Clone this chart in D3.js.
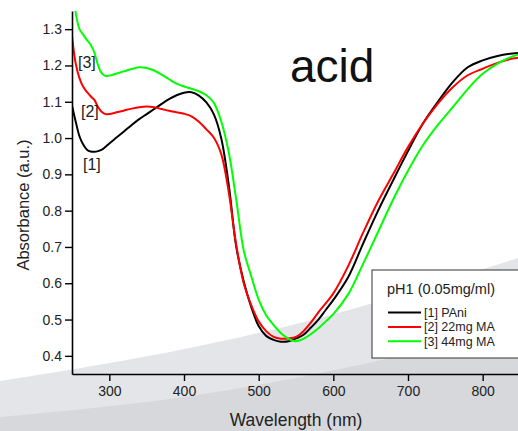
<!DOCTYPE html>
<meta charset="utf-8">
<script src="https://cdn.jsdelivr.net/npm/d3@7"></script>
<style>
  body { margin: 0; background: #fff; }
  svg { display: block; font-family: "Liberation Sans", Arial, sans-serif; }
</style>
<div id="dataviz"></div>
<script>

// wavelengths (nm) and absorbance
var wavelength = [250, 255, 260, 265, 270, 275, 280, 285, 290, 295, 300, 310, 320, 330, 340, 350, 360, 370, 380, 390,
                  400, 410, 420, 430, 440, 450, 460, 470, 480, 490, 500, 510, 520, 530, 540, 550, 560, 570, 580, 590,
                  600, 620, 640, 660, 680, 700, 720, 740, 760, 780, 800, 820, 840, 850];

var pani = [1.09, 1.045, 1.005, 0.982, 0.968, 0.963, 0.962, 0.964, 0.968, 0.976, 0.985, 1.002, 1.019, 1.036, 1.052, 1.066, 1.080, 1.094, 1.107, 1.118,
            1.125, 1.126, 1.117, 1.098, 1.065, 0.998, 0.87, 0.70, 0.605, 0.535, 0.482, 0.455, 0.444, 0.439, 0.44, 0.448, 0.458, 0.478, 0.50, 0.527,
            0.554, 0.617, 0.71, 0.80, 0.883, 0.964, 1.04, 1.10, 1.154, 1.195, 1.214, 1.226, 1.233, 1.235];

var ma22 = [1.28, 1.205, 1.165, 1.141, 1.127, 1.115, 1.105, 1.085, 1.072, 1.066, 1.066, 1.071, 1.076, 1.081, 1.085, 1.087, 1.085, 1.080, 1.075, 1.071,
            1.067, 1.060, 1.045, 1.024, 1.001, 0.955, 0.85, 0.705, 0.60, 0.54, 0.495, 0.468, 0.452, 0.447, 0.448, 0.452, 0.468, 0.492, 0.52, 0.545,
            0.572, 0.648, 0.74, 0.826, 0.90, 0.975, 1.04, 1.095, 1.14, 1.173, 1.191, 1.207, 1.219, 1.222];

var ma44 = [1.42, 1.345, 1.30, 1.285, 1.27, 1.257, 1.235, 1.20, 1.178, 1.171, 1.172, 1.178, 1.184, 1.19, 1.195, 1.193, 1.186, 1.175, 1.162, 1.150,
            1.142, 1.136, 1.129, 1.118, 1.097, 1.045, 0.96, 0.83, 0.69, 0.62, 0.555, 0.512, 0.485, 0.462, 0.447, 0.44, 0.447, 0.46, 0.476, 0.495,
            0.515, 0.57, 0.654, 0.742, 0.83, 0.91, 0.98, 1.036, 1.085, 1.135, 1.177, 1.205, 1.225, 1.232];

var seriesNames = ["[1] PAni", "[2] 22mg MA", "[3] 44mg MA"];
var seriesColors = ["#000000", "#ff0000", "#00ff00"];
var xTicks = [300, 400, 500, 600, 700, 800];
var yTicks = [0.4, 0.5, 0.6, 0.7, 0.8, 0.9, 1.0, 1.1, 1.2, 1.3];

var W = 518, H = 431;
var margin = {top: 11, left: 72},
    width = 448,
    height = 363;

var svg = d3.select("#dataviz")
  .append("svg")
    .attr("width", W)
    .attr("height", H);

// slide background bands
var band = d3.line().curve(d3.curveBasis);
var lightEdge = [[0, 381], [180, 352], [350, 312], [518, 258]];
var darkEdge = [[0, 417], [180, 400], [330, 372], [518, 330]];
svg.append("path")
  .attr("d", band(lightEdge) + "L518,431L0,431Z")
  .attr("fill", "#e3e5e8");
svg.append("path")
  .attr("d", band(darkEdge) + "L518,431L0,431Z")
  .attr("fill", "#d6d8dc");

var g = svg.append("g")
  .attr("transform", "translate(" + margin.left + "," + margin.top + ")");

var x = d3.scaleLinear()
  .domain([250, 850])
  .range([0, width]);

var y = d3.scaleLinear()
  .domain([0.35, 1.35])
  .range([height, 0]);

g.append("clipPath")
  .attr("id", "clip")
  .append("rect")
    .attr("width", width)
    .attr("height", height);

var line = d3.line()
  .curve(d3.curveCatmullRom)
  .x(function(d, i) { return x(wavelength[i]); })
  .y(function(d) { return y(d); });

[pani, ma22, ma44].forEach(function(s, i) {
  g.append("path")
    .datum(s)
    .attr("clip-path", "url(#clip)")
    .attr("fill", "none")
    .attr("stroke", seriesColors[i])
    .attr("stroke-width", 2)
    .attr("d", line);
});

// axes
var xAxis = g.append("g")
  .attr("transform", "translate(0," + height + ")")
  .call(d3.axisBottom(x).tickValues(xTicks).tickSizeInner(7).tickSizeOuter(0).tickPadding(5));

var yAxis = g.append("g")
  .call(d3.axisLeft(y).tickValues(yTicks).tickFormat(d3.format(".1f")).tickSizeInner(7).tickSizeOuter(0).tickPadding(3));

[xAxis, yAxis].forEach(function(a) {
  a.select(".domain").attr("stroke", "#000").attr("stroke-width", 1.6);
  a.selectAll(".tick line").attr("stroke", "#000").attr("stroke-width", 1.4);
  a.selectAll(".tick text")
    .attr("fill", "#222")
    .style("font-size", "14px")
    .style("font-family", "Liberation Sans, Arial, sans-serif");
});

svg.append("text")
  .attr("x", 296)
  .attr("y", 426)
  .attr("text-anchor", "middle")
  .attr("fill", "#222")
  .style("font-size", "17.5px")
  .text("Wavelength (nm)");

svg.append("text")
  .attr("transform", "translate(29,205) rotate(-90)")
  .attr("text-anchor", "middle")
  .attr("fill", "#222")
  .style("font-size", "16.5px")
  .text("Absorbance (a.u.)");

svg.append("text")
  .attr("x", 290)
  .attr("y", 82)
  .attr("fill", "#111")
  .style("font-size", "46px")
  .text("acid");

// curve labels
var curveLabels = [["[3]", 78, 68], ["[2]", 81, 117], ["[1]", 83, 170]];
curveLabels.forEach(function(l) {
  svg.append("text")
    .attr("x", l[1])
    .attr("y", l[2])
    .attr("fill", "#222")
    .style("font-size", "16px")
    .text(l[0]);
});

// legend
var legend = svg.append("g").attr("transform", "translate(372,270)");
legend.append("rect")
  .attr("width", 152)
  .attr("height", 88)
  .attr("fill", "#fff")
  .attr("stroke", "#333")
  .attr("stroke-width", 1);
legend.append("text")
  .attr("x", 15)
  .attr("y", 24)
  .attr("fill", "#222")
  .style("font-size", "14.5px")
  .text("pH1 (0.05mg/ml)");
seriesNames.forEach(function(n, i) {
  var yy = 42.5 + i * 14.4;
  legend.append("line")
    .attr("x1", 16).attr("x2", 49)
    .attr("y1", yy).attr("y2", yy)
    .attr("stroke", seriesColors[i])
    .attr("stroke-width", 2);
  legend.append("text")
    .attr("x", 52)
    .attr("y", yy + 4.5)
    .attr("fill", "#222")
    .style("font-size", "12.5px")
    .text(n);
});

</script>
